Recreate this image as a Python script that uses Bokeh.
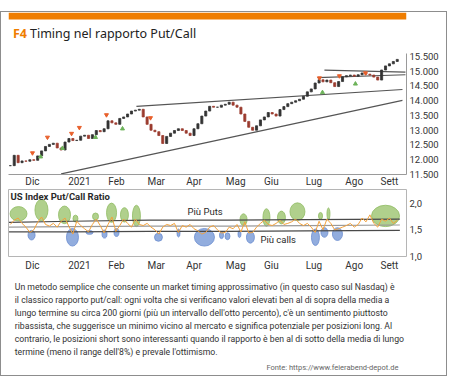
from bokeh.plotting import figure
from bokeh.models import Range1d, FixedTicker, ColumnDataSource
from bokeh.layouts import column
from bokeh.embed import file_html
from bokeh.resources import INLINE
from bokeh.core.properties import value

# ---------------- data ----------------
month_days = [30, 66, 94.5, 125, 154, 186, 213.4, 246, 277, 304]
month_labels = ["Dic", "2021", "Feb", "Mar", "Apr", "Mag", "Giu", "Lug", "Ago", "Sett"]

price_ticks = [11500, 12000, 12500, 13000, 13500, 14000, 14500, 15000, 15500]
price_tick_labels = ["11.500", "12.000", "12.500", "13.000", "13.500", "14.000", "14.500", "15.000", "15.500"]

price_days = list(range(13, 311, 3))
price_close = [11800, 12150, 11900, 11960, 11950, 12000, 11980, 12130, 12300, 12450,
               12520, 12560, 12400, 12330, 12600, 12720, 12650, 12660, 12800, 12830,
               12720, 12850, 12990, 12950, 13050, 13320, 13250, 13200, 13400, 13450,
               13550, 13650, 13680, 13710, 13450, 13200, 13000, 12950, 12820, 12550,
               12790, 12900, 12990, 13050, 12990, 12900, 12820, 13050, 13220, 13480,
               13650, 13810, 13780, 13780, 13850, 13880, 13950, 13850, 13780, 13550,
               13300, 13100, 13000, 13150, 13350, 13450, 13600, 13550, 13480, 13700,
               13800, 13900, 13950, 14000, 14050, 14150, 14300, 14400, 14600, 14710,
               14640, 14700, 14610, 14480, 14650, 14810, 14850, 14870, 14830, 14880,
               14940, 14900, 14870, 14800, 14700, 15040, 15180, 15250, 15330, 15400]

sell_days = [30.0, 41.5, 60.0, 66.0, 86.8, 120.6, 250.3, 265.6, 285.6]
sell_price = [12230, 12760, 12890, 13090, 13520, 13420, 14770, 14840, 14940]
buy_days = [36.2, 53.0, 78.4, 99.1, 252.6, 277.9]
buy_price = [12100, 12390, 12760, 13050, 14280, 14570]

trend_x0 = [52.0, 109.8, 254.1, 248.8]
trend_y0 = [11520, 13810, 15040, 14780]
trend_x1 = [314.0, 314.0, 316.3, 316.3]
trend_y1 = [14010, 14380, 14970, 14880]

ratio_ticks = [1.0, 1.5, 2.0]
ratio_tick_labels = ["1,0", "1,5", "2,0"]

ratio_days = list(range(13, 311, 3))
ratio_vals = [1.60, 1.68, 1.72, 1.62, 1.55, 1.45, 1.50, 1.64, 1.74, 1.60,
              1.57, 1.62, 1.55, 1.66, 1.72, 1.56, 1.42, 1.66, 1.58, 1.52,
              1.46, 1.60, 1.70, 1.58, 1.44, 1.60, 1.74, 1.47, 1.58, 1.70,
              1.62, 1.55, 1.70, 1.60, 1.58, 1.62, 1.55, 1.50, 1.42, 1.55,
              1.60, 1.58, 1.62, 1.45, 1.58, 1.55, 1.60, 1.52, 1.48, 1.42,
              1.45, 1.55, 1.58, 1.50, 1.44, 1.45, 1.55, 1.52, 1.60, 1.46,
              1.65, 1.44, 1.45, 1.55, 1.62, 1.68, 1.60, 1.58, 1.62, 1.68,
              1.60, 1.62, 1.65, 1.70, 1.62, 1.58, 1.62, 1.55, 1.45, 1.66,
              1.50, 1.70, 1.62, 1.50, 1.52, 1.55, 1.58, 1.62, 1.55, 1.60,
              1.72, 1.65, 1.78, 1.62, 1.55, 1.70, 1.66, 1.72, 1.62, 1.68]

band_days = [12, 60, 120, 180, 240, 312]
band_upper = [1.64, 1.66, 1.68, 1.68, 1.69, 1.70]
band_mid = [1.55, 1.56, 1.57, 1.57, 1.58, 1.59]
band_lower = [1.46, 1.46, 1.47, 1.47, 1.48, 1.49]

green_day = [19.3, 36.9, 54.6, 63.0, 78.4, 90.7, 100.6, 109.8, 192.0, 209.6, 221.1, 233.4, 251.1, 257.2, 301.0]
green_val = [1.80, 1.87, 1.78, 1.71, 1.75, 1.82, 1.78, 1.76, 1.69, 1.73, 1.73, 1.84, 1.76, 1.80, 1.76]
green_w = [13.0, 10.0, 9.2, 3.8, 4.6, 7.7, 6.1, 6.1, 5.4, 5.4, 6.1, 11.5, 3.1, 2.3, 21.5]
green_h = [0.27, 0.40, 0.33, 0.13, 0.13, 0.36, 0.27, 0.40, 0.22, 0.33, 0.24, 0.33, 0.13, 0.22, 0.40]

blue_day = [29.3, 60.7, 73.8, 85.3, 94.5, 126.7, 142.1, 162.0, 175.1, 179.7, 188.9, 197.3, 247.2, 254.1, 264.1]
blue_val = [1.40, 1.36, 1.45, 1.42, 1.45, 1.36, 1.44, 1.36, 1.40, 1.38, 1.42, 1.36, 1.36, 1.45, 1.42]
blue_w = [5.4, 9.2, 5.4, 3.8, 3.8, 6.1, 2.3, 15.4, 3.1, 3.8, 2.3, 6.1, 6.1, 5.4, 7.7]
blue_h = [0.18, 0.33, 0.07, 0.15, 0.15, 0.15, 0.15, 0.33, 0.13, 0.13, 0.13, 0.22, 0.31, 0.18, 0.24]

title_code = "F4"
title_text = "Timing nel rapporto Put/Call"
panel_title = "US Index Put/Call Ratio"
paragraph = [
    "Un metodo semplice che consente un market timing approssimativo (in questo caso sul Nasdaq) è",
    "il classico rapporto put/call: ogni volta che si verificano valori elevati ben al di sopra della media a",
    "lungo termine su circa 200 giorni (più un intervallo dell'otto percento), c'è un sentimento piuttosto",
    "ribassista, che suggerisce un minimo vicino al mercato e significa potenziale per posizioni long. Al",
    "contrario, le posizioni short sono interessanti quando il rapporto è ben al di sotto della media di lungo",
    "termine (meno il range dell'8%) e prevale l'ottimismo.",
]
source_text = "Fonte: https://www.feierabend-depot.de"

# ---------------- styles ----------------
FONT = "Roboto"
W = 445
X0, X1 = 11.6, 317.1

def blank(h):
    f = figure(width=W, height=h, x_range=Range1d(0, W), y_range=Range1d(h, 0),
               output_backend="svg", toolbar_location=None, x_axis_type=None, y_axis_type=None,
               min_border=0, min_border_left=0, min_border_right=0, min_border_top=0, min_border_bottom=0)
    f.outline_line_color = None
    f.grid.visible = False
    return f

def style_axes(f, yticks, ylabels, xstand):
    f.xaxis.ticker = FixedTicker(ticks=month_days)
    f.xaxis.major_label_overrides = dict(zip(month_days, month_labels))
    f.yaxis.ticker = FixedTicker(ticks=yticks)
    f.yaxis.major_label_overrides = dict(zip(yticks, ylabels))
    for ax in (f.xaxis, f.yaxis):
        ax.major_tick_line_color = None
        ax.minor_tick_line_color = None
        ax.major_tick_out = 0
        ax.major_label_text_font = FONT
        ax.major_label_text_color = "#333333"
    f.xaxis.major_label_text_font_size = "10px"
    f.yaxis.major_label_text_font_size = "9.5px"
    f.xaxis.major_label_standoff = xstand
    f.yaxis.major_label_standoff = 3
    f.grid.visible = False

# ---------------- header ----------------
head = blank(33)
head.quad(left=[0], right=[W], top=[0], bottom=[7], fill_color="#ef7d00", line_color=None)
head.text(x=[5], y=[21], text=[title_code], text_font=value("Noto Sans"), text_font_style="bold",
          text_font_size="12.5px", text_color="#ef7d00", text_baseline="middle")
head.text(x=[24], y=[21], text=[title_text], text_font=value("Noto Sans"),
          text_font_size="12.5px", text_color="#222222", text_baseline="middle")

# ---------------- price chart ----------------
p1 = figure(width=W, height=144, x_range=Range1d(X0, X1), y_range=Range1d(11500, 15600),
            output_backend="svg", toolbar_location=None, y_axis_location="right",
            min_border_left=7, min_border_right=40, min_border_top=8, min_border_bottom=13)
p1.outline_line_color = None
style_axes(p1, price_ticks, price_tick_labels, 1)
p1.xaxis.axis_line_color = "#9a9a9a"
p1.yaxis.axis_line_color = "#9a9a9a"

opens = [price_close[0]] + price_close[:-1]
src = ColumnDataSource(dict(
    x=price_days,
    top=[max(o, c) for o, c in zip(opens, price_close)],
    bottom=[min(o, c) for o, c in zip(opens, price_close)],
    color=["#333333" if c >= o else "#9b3b2e" for o, c in zip(opens, price_close)],
))
p1.segment(x0=trend_x0, y0=trend_y0, x1=trend_x1, y1=trend_y1, line_color="#555555", line_width=1.2)
p1.vbar(x="x", top="top", bottom="bottom", width=1.6, fill_color="color", line_color="color",
        line_width=0.8, source=src)
p1.scatter(sell_days, sell_price, marker="inverted_triangle", size=4, color="#e8602c")
p1.scatter(buy_days, buy_price, marker="triangle", size=4, color="#6db35a")

# ---------------- ratio chart ----------------
p2 = figure(width=W, height=84, x_range=p1.x_range, y_range=Range1d(1.0, 2.255),
            output_backend="svg", toolbar_location=None, y_axis_location="right",
            min_border_left=7, min_border_right=40, min_border_top=0, min_border_bottom=15)
p2.outline_line_color = "#b5b5b5"
style_axes(p2, ratio_ticks, ratio_tick_labels, 3)
p2.xaxis.axis_line_color = None
p2.yaxis.axis_line_color = None

p2.ellipse(x=green_day, y=green_val, width=green_w, height=green_h,
           fill_color="#a2c878", fill_alpha=0.85, line_color="#8fbb62", line_width=0.8)
p2.ellipse(x=blue_day, y=blue_val, width=blue_w, height=blue_h,
           fill_color="#7f9fd8", fill_alpha=0.85, line_color="#6b8dcf", line_width=0.8)
p2.line(band_days, band_mid, line_color="#9a9a9a", line_width=1.2)
p2.line(band_days, band_upper, line_color="#4a4a4a", line_width=1.2)
p2.line(band_days, band_lower, line_color="#4a4a4a", line_width=1.2)
p2.line(ratio_days, ratio_vals, line_color="#f3a23c", line_width=1)
p2.text(x=[13.1], y=[2.127], text=[panel_title], text_font=value(FONT), text_font_style="bold",
        text_font_size="9.5px", text_color="#2a2a2a", text_baseline="middle")
p2.text(x=[149], y=[1.836], text=["Più Puts"], text_font=value(FONT),
        text_font_size="9.5px", text_color="#2a2a2a", text_baseline="middle")
p2.text(x=[205], y=[1.31], text=["Più calls"], text_font=value(FONT),
        text_font_size="9.5px", text_color="#2a2a2a", text_baseline="middle")

# ---------------- text ----------------
tx = blank(102)
tx.text(x=[7] * len(paragraph), y=[13 + 13 * i for i in range(len(paragraph))], text=paragraph,
        text_font=value(FONT), text_font_size="8.7px", text_color="#333333", text_baseline="middle")
tx.text(x=[436], y=[94], text=[source_text], text_font=value(FONT), text_font_size="7.5px",
        text_color="#666666", text_baseline="middle", text_align="right")

card = column(head, p1, p2, tx, spacing=0,
              styles={"border": "1px solid #8d8d8d", "margin-top": "11px"})

open("out.html", "w").write(file_html(card, INLINE))
